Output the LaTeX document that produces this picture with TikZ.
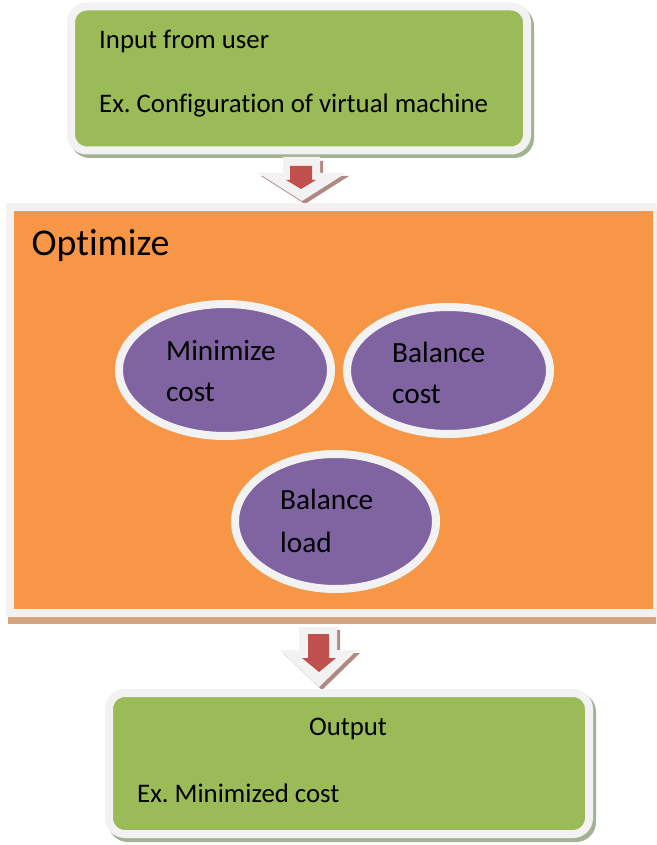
\documentclass[tikz,border=0pt]{standalone}
\usepackage{fontspec}
\setmainfont[Ligatures=NoCommon]{Carlito}
\frenchspacing
\usetikzlibrary{shapes.geometric}

\definecolor{boxgreen}{RGB}{155,187,89}
\definecolor{greenshade}{RGB}{163,178,146}
\definecolor{boxorange}{RGB}{247,150,70}
\definecolor{orangeshade}{RGB}{212,163,128}
\definecolor{ovalpurple}{RGB}{128,100,162}
\definecolor{ovalshade}{RGB}{176,112,72}
\definecolor{ringgray}{RGB}{242,242,242}
\definecolor{arrowred}{RGB}{192,80,77}
\definecolor{arrowshade}{RGB}{178,136,132}

\tikzset{
  panel/.style={draw=ringgray, line width=8pt, rounded corners=16pt, inner sep=0pt},
  bigpanel/.style={draw=ringgray, line width=8pt, fill=boxorange, inner sep=0pt},
  oval/.style={ellipse, draw=ringgray, line width=8pt, fill=ovalpurple, inner sep=0pt},
  label/.style={inner sep=0pt, anchor=base west, font=\fontsize{26.8}{30}\selectfont},
  ovallabel/.style={inner sep=0pt, anchor=base west, font=\fontsize{29.3}{33}\selectfont},
  blockarrow/.style={fill=ringgray},
  blockshadow/.style={fill=arrowshade},
  pointer/.style={fill=arrowred}
}

\begin{document}
\begin{tikzpicture}[x=1pt, y=-1pt]
\path[use as bounding box] (0,0) rectangle (656,845);
\clip (0,0) rectangle (656,845);
\fill[white] (0,0) rectangle (656,845);

% drop shadows behind the panels and ovals
\fill[greenshade, rounded corners=20pt] (70,6) rectangle (534,158);
\fill[orangeshade] (8,210) rectangle (662,624);
\fill[greenshade, rounded corners=20pt] (108,692) rectangle (596,842);
\fill[ovalshade] (228,373) ellipse [x radius=110, y radius=70];
\fill[ovalshade] (451.5,373.5) ellipse [x radius=105.5, y radius=67.5];
\fill[ovalshade] (338.5,524.5) ellipse [x radius=104.5, y radius=71.5];

% input panel
\node[panel, fill=boxgreen, minimum width=456pt, minimum height=144pt] (input) at (299,78.5) {};
\node[label] (inputhead) at (99,49) {Input from user};
\node[label] (inputex) at (99,113) {Ex. Configuration of virtual machine};

% first block arrow
\fill[blockshadow] (286,161) -- (323,161) -- (323,176) -- (349,176) -- (305,204) -- (261,176) -- (286,176) -- cycle;
\fill[blockarrow] (283,157) -- (320,157) -- (320,173) -- (346,173) -- (302,201) -- (258,173) -- (283,173) -- cycle;
\fill[pointer] (290,166) -- (312,166) -- (312,180) -- (316,180) -- (301,189) -- (286,180) -- (290,180) -- cycle;

% optimize panel
\node[bigpanel, minimum width=647pt, minimum height=406pt] (optimize) at (333.5,410) {};
\node[inner sep=0pt, anchor=base west, font=\fontsize{37.8}{41}\selectfont] (opthead) at (31.5,255) {Optimize};

% goals
\node[oval, minimum width=212pt, minimum height=132pt] (mincost) at (225,370) {};
\node[ovallabel] (mincosta) at (166,360) {Minimize};
\node[ovallabel] (mincostb) at (166,401) {cost};

\node[oval, minimum width=203pt, minimum height=127pt] (balcost) at (448.5,370.5) {};
\node[ovallabel] (balcosta) at (392,362) {Balance};
\node[ovallabel] (balcostb) at (392,403) {cost};

\node[oval, minimum width=201pt, minimum height=135pt] (balload) at (335.5,521.5) {};
\node[ovallabel] (balloada) at (280,509) {Balance};
\node[ovallabel] (balloadb) at (280,552) {load};

% second block arrow
\fill[blockshadow] (302,630) -- (340,630) -- (340,653) -- (360,653) -- (322,690) -- (283,653) -- (302,653) -- cycle;
\fill[blockarrow] (299,627) -- (337,627) -- (337,650) -- (357,650) -- (319,687) -- (280,650) -- (299,650) -- cycle;
\fill[pointer] (308,634) -- (329,634) -- (329,658) -- (336,658) -- (319,672) -- (302,658) -- (308,658) -- cycle;

% output panel
\node[panel, fill=boxgreen, minimum width=480pt, minimum height=141pt] (output) at (349,763.5) {};
\node[inner sep=0pt, anchor=base, font=\fontsize{26.8}{30}\selectfont] (outhead) at (348,735) {Output};
\node[label] (outex) at (137,802) {Ex. Minimized cost};
\end{tikzpicture}
\end{document}
